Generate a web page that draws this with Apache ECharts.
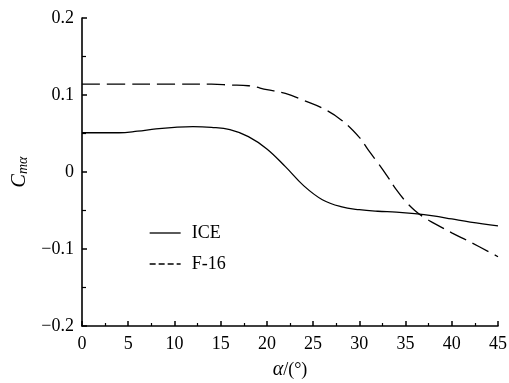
<!DOCTYPE html>
<html>
<head>
<meta charset="utf-8">
<script src="https://cdn.jsdelivr.net/npm/echarts@6/dist/echarts.min.js"></script>
<style>html,body{margin:0;padding:0;background:#fff;}#c{width:509px;height:383px;}</style>
</head>
<body>
<div id="c"></div>
<script>
var iceAlpha = [0,2,4,6,8,10,12,14,16,18,20,22,24,26,28,30,32,34,36,38,40,42,45];
var iceCm    = [0.051,0.051,0.051,0.053,0.056,0.058,0.059,0.058,0.055,0.046,0.030,0.007,-0.018,-0.036,-0.045,-0.049,-0.051,-0.052,-0.054,-0.057,-0.061,-0.065,-0.070];
var f16Alpha = [0,5,10,14,16,18,20,22,24,26,28,30,31,32,33,34,35,36,37,38,40,42,45];
var f16Cm    = [0.114,0.114,0.114,0.114,0.113,0.112,0.107,0.102,0.093,0.083,0.068,0.045,0.028,0.012,-0.005,-0.023,-0.038,-0.050,-0.059,-0.066,-0.079,-0.091,-0.110];
var seriesNames = ['ICE','F-16'];
var xTicks = [0,5,10,15,20,25,30,35,40,45];
var yTicks = [-0.2,-0.1,0,0.1,0.2];

function zip(a,b){return a.map(function(v,i){return [v,b[i]];});}
var font = 'Liberation Serif';
var chart = echarts.init(document.getElementById('c'));
chart.setOption({
  animation:false,
  backgroundColor:'#fff',
  color:['#000','#000'],
  grid:{left:82,right:11,top:18,bottom:57,containLabel:false,outerBoundsMode:'none'},
  legend:{
    orient:'vertical', left:144, top:219, itemWidth:31, itemHeight:14, itemGap:13,
    textStyle:{fontFamily:font,fontSize:18,color:'#000',padding:[0,0,0,6]},
    itemStyle:{opacity:0},
    data:[
      {name:seriesNames[0], itemStyle:{opacity:0}, lineStyle:{type:'solid',width:1.3,color:'#000'}},
      {name:seriesNames[1], itemStyle:{opacity:0}, lineStyle:{type:[6,3],width:1.3,color:'#000'}}
    ]
  },
  xAxis:{
    type:'value', min:0, max:45, interval:5,
    axisLine:{onZero:false,lineStyle:{color:'#000',width:1.6}},
    axisTick:{inside:true,length:5,lineStyle:{color:'#000',width:1.5}},
    minorTick:{show:true,splitNumber:2,length:3,lineStyle:{color:'#000',width:1.2}},
    splitLine:{show:false},
    axisLabel:{fontFamily:font,fontSize:18,color:'#000',margin:9,
      formatter:function(v){return xTicks.indexOf(v)>=0?String(v):'';}},
    name:'{a|α}{b|/(°)}', nameLocation:'middle', nameGap:34,
    nameTextStyle:{rich:{a:{fontFamily:font,fontSize:20,fontStyle:'italic',color:'#000'},b:{fontFamily:font,fontSize:18,color:'#000'}}}
  },
  yAxis:{
    type:'value', min:-0.2, max:0.2, interval:0.1,
    axisLine:{show:true,onZero:false,lineStyle:{color:'#000',width:1.6}},
    axisTick:{show:true,inside:true,length:5,lineStyle:{color:'#000',width:1.5}},
    minorTick:{show:true,splitNumber:2,length:4,lineStyle:{color:'#000',width:1.2}},
    splitLine:{show:false},
    axisLabel:{fontFamily:font,fontSize:18,color:'#000',margin:8,
      formatter:function(v){var r=Math.round(v*10)/10; return r===0?'0':String(r).replace('-','\u2212');}},
    name:'{a|C}{b|mα}', nameLocation:'middle', nameGap:50,
    nameTextStyle:{rich:{a:{fontFamily:font,fontSize:20,fontStyle:'italic',color:'#000'},b:{fontFamily:font,fontSize:14,fontStyle:'italic',color:'#000',verticalAlign:'bottom',padding:[8,0,0,0]}}}
  },
  series:[
    {name:seriesNames[0],type:'line',data:zip(iceAlpha,iceCm),smooth:0.4,symbol:'none',
     itemStyle:{color:'#000'},lineStyle:{color:'#000',width:1.3,type:'solid'}},
    {name:seriesNames[1],type:'line',data:zip(f16Alpha,f16Cm),smooth:0.4,symbol:'none',
     itemStyle:{color:'#000'},lineStyle:{color:'#000',width:1.3,type:[18,7]}}
  ]
});
</script>
</body>
</html>
